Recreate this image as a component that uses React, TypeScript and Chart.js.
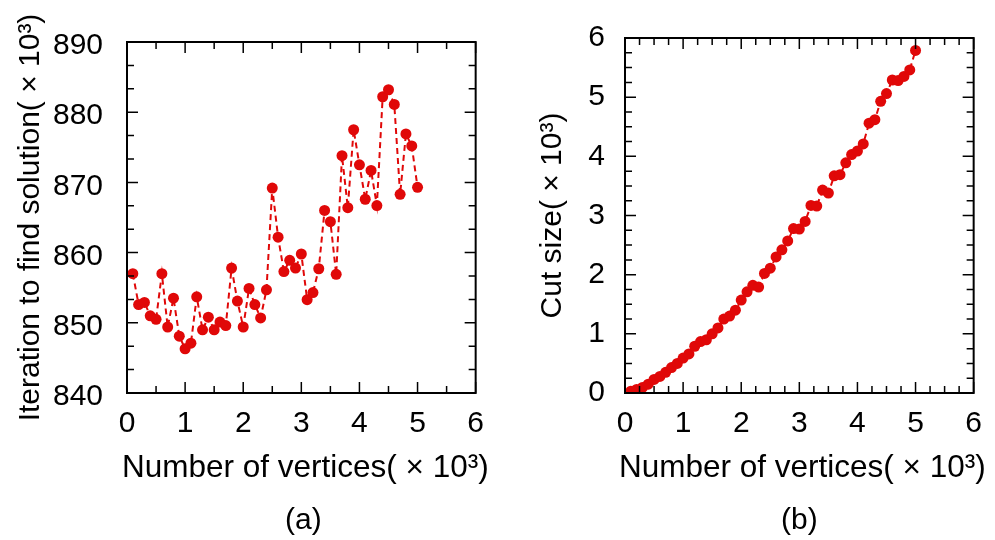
import React, { useEffect, useRef } from 'react';
import { Chart, registerables } from 'chart.js';

Chart.register(...registerables);

const FONT = '"Liberation Sans", Arial, Helvetica, sans-serif';

// Number of vertices (×10³)
const vertices = [
  0.1, 0.2, 0.3, 0.4, 0.5, 0.6, 0.7, 0.8, 0.9, 1.0,
  1.1, 1.2, 1.3, 1.4, 1.5, 1.6, 1.7, 1.8, 1.9, 2.0,
  2.1, 2.2, 2.3, 2.4, 2.5, 2.6, 2.7, 2.8, 2.9, 3.0,
  3.1, 3.2, 3.3, 3.4, 3.5, 3.6, 3.7, 3.8, 3.9, 4.0,
  4.1, 4.2, 4.3, 4.4, 4.5, 4.6, 4.7, 4.8, 4.9, 5.0,
];

// (a) Iteration to find solution (×10³)
const iterations = [
  857.0, 852.6, 852.9, 851.0, 850.5, 857.0, 849.4, 853.5, 848.1, 846.3,
  847.1, 853.7, 849.0, 850.8, 849.0, 850.1, 849.6, 857.8, 853.1, 849.4,
  854.9, 852.6, 850.7, 854.7, 869.2, 862.2, 857.3, 858.9, 857.8, 859.8,
  853.3, 854.3, 857.7, 866.0, 864.4, 856.9, 873.8, 866.4, 877.5, 872.5,
  867.6, 871.7, 866.7, 882.2, 883.2, 881.1, 868.3, 876.9, 875.2, 869.3,
];

// (b) Cut size (×10³)
const cutSizes = [
  0.03, 0.06, 0.095, 0.15, 0.23, 0.28, 0.35, 0.43, 0.50, 0.59,
  0.66, 0.79, 0.87, 0.90, 1.00, 1.10, 1.25, 1.30, 1.40, 1.57,
  1.71, 1.82, 1.79, 2.02, 2.11, 2.30, 2.42, 2.57, 2.78, 2.77,
  2.90, 3.17, 3.16, 3.43, 3.38, 3.67, 3.69, 3.89, 4.03, 4.09,
  4.21, 4.56, 4.62, 4.93, 5.06, 5.29, 5.28, 5.35, 5.46, 5.79,
];

const xTitle = 'Number of vertices( × 10³)';
const yTitleA = 'Iteration to find solution( × 10³)';
const yTitleB = 'Cut size( × 10³)';
const captions = ['(a)', '(b)'];

const RED = 'rgb(224, 8, 8)';

const frameTicks = {
  id: 'frameTicks',
  afterDraw(chart: any, _args: any, opts: any) {
    const { ctx, chartArea } = chart;
    const { left, right, top, bottom } = chartArea;
    const xs = chart.scales.x;
    const ys = chart.scales.y;
    ctx.save();
    ctx.strokeStyle = '#000';
    ctx.lineWidth = 1.5;
    const major = 11;
    const minor = 7;
    const drawX = (v: number, len: number) => {
      const px = xs.getPixelForValue(v);
      ctx.beginPath();
      ctx.moveTo(px, bottom);
      ctx.lineTo(px, bottom - len);
      ctx.moveTo(px, top);
      ctx.lineTo(px, top + len);
      ctx.stroke();
    };
    const drawY = (v: number, len: number) => {
      const py = ys.getPixelForValue(v);
      ctx.beginPath();
      ctx.moveTo(left, py);
      ctx.lineTo(left + len, py);
      ctx.moveTo(right, py);
      ctx.lineTo(right - len, py);
      ctx.stroke();
    };
    const xt = xs.ticks.map((t: any) => t.value);
    for (let i = 0; i < xt.length; i++) {
      drawX(xt[i], major);
      if (i < xt.length - 1) {
        for (let k = 1; k < opts.xMinor; k++) {
          drawX(xt[i] + ((xt[i + 1] - xt[i]) * k) / opts.xMinor, minor);
        }
      }
    }
    const yt = ys.ticks.map((t: any) => t.value);
    for (let i = 0; i < yt.length; i++) {
      drawY(yt[i], major);
      if (i < yt.length - 1) {
        for (let k = 1; k < opts.yMinor; k++) {
          drawY(yt[i] + ((yt[i + 1] - yt[i]) * k) / opts.yMinor, minor);
        }
      }
    }
    ctx.lineWidth = 2;
    ctx.strokeRect(left, top, right - left, bottom - top);

    // x-axis title and panel caption
    const cx = (left + right) / 2;
    ctx.fillStyle = '#000';
    ctx.textBaseline = 'alphabetic';
    ctx.textAlign = 'center';
    ctx.font = `31.5px ${FONT}`;
    ctx.fillText(opts.xTitle, cx + opts.titleShift, 477);
    ctx.font = `30px ${FONT}`;
    ctx.fillText(opts.caption, cx + opts.captionShift, 529);
    ctx.restore();
  },
};

type PanelProps = {
  values: number[];
  yMin: number;
  yMax: number;
  yStep: number;
  yMinor: number;
  xMinor: number;
  yTitle: string;
  yTitlePad: number;
  yAxisWidth: number;
  yTickPad: number;
  yLabelOffset: number;
  padRight: number;
  caption: string;
  titleShift: number;
  captionShift: number;
};

function Panel(p: PanelProps) {
  const ref = useRef<HTMLCanvasElement | null>(null);
  useEffect(() => {
    if (!ref.current) return;
    const data = vertices.map((x, i) => ({ x, y: p.values[i] }));
    const chart = new Chart(ref.current, {
      type: 'line',
      data: {
        datasets: [
          {
            data,
            borderColor: RED,
            backgroundColor: RED,
            borderWidth: 2,
            borderDash: [6, 4],
            pointRadius: 5.5,
            pointBackgroundColor: RED,
            pointBorderWidth: 0,
            fill: false,
            tension: 0,
          },
        ],
      },
      options: {
        animation: false,
        responsive: true,
        maintainAspectRatio: false,
        layout: { padding: { top: 34, right: p.padRight, bottom: 0, left: 0 } },
        plugins: {
          legend: { display: false },
          tooltip: { enabled: false },
          frameTicks: {
            xMinor: p.xMinor,
            yMinor: p.yMinor,
            caption: p.caption,
            xTitle,
            titleShift: p.titleShift,
            captionShift: p.captionShift,
          },
        } as any,
        scales: {
          x: {
            type: 'linear',
            min: 0,
            max: 6,
            ticks: { stepSize: 1, padding: 13, color: '#000', font: { size: 30, family: FONT } },
            grid: { display: false, drawTicks: false },
            border: { display: false },
            title: { display: false },
            afterFit: (s: any) => {
              s.height = 147;
            },
          },
          y: {
            type: 'linear',
            min: p.yMin,
            max: p.yMax,
            ticks: {
              stepSize: p.yStep,
              padding: p.yTickPad,
              labelOffset: p.yLabelOffset,
              color: '#000',
              font: { size: 30, family: FONT },
            },
            grid: { display: false, drawTicks: false },
            border: { display: false },
            title: {
              display: true,
              text: p.yTitle,
              color: '#000',
              font: { size: 30, family: FONT },
              padding: { top: p.yTitlePad, bottom: 0 },
            },
            afterFit: (s: any) => {
              s.width = p.yAxisWidth;
            },
          },
        },
      },
      plugins: [frameTicks],
    });
    return () => chart.destroy();
  }, []);
  return <canvas ref={ref} />;
}

export default function App() {
  return (
    <div style={{ position: 'absolute', left: 0, top: 0, width: 995, height: 540, background: '#fff' }}>
      <div style={{ position: 'absolute', left: 0, top: 0, width: 497, height: 540 }}>
        <Panel
          values={iterations}
          yMin={840}
          yMax={890}
          yStep={10}
          yMinor={3}
          xMinor={2}
          yTitle={yTitleA}
          yTitlePad={13}
          yAxisWidth={127}
          yTickPad={24}
          yLabelOffset={4}
          padRight={13}
          caption={captions[0]}
          titleShift={4}
          captionShift={2}
        />
      </div>
      <div style={{ position: 'absolute', left: 497, top: 0, width: 498, height: 540 }}>
        <Panel
          values={cutSizes}
          yMin={0}
          yMax={6}
          yStep={1}
          yMinor={4}
          xMinor={4}
          yTitle={yTitleB}
          yTitlePad={38}
          yAxisWidth={128}
          yTickPad={20}
          yLabelOffset={0}
          padRight={14}
          caption={captions[1]}
          titleShift={3}
          captionShift={0}
        />
      </div>
    </div>
  );
}
